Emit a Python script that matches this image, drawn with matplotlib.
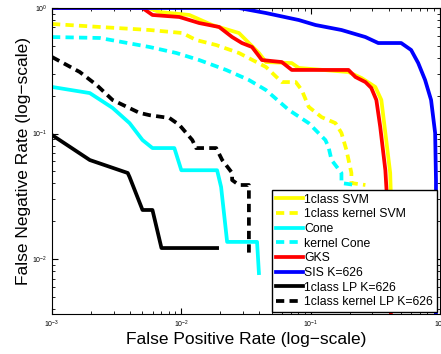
import numpy as np
import matplotlib.pyplot as plt

plt.rcParams['font.family'] = ['Liberation Sans', 'DejaVu Sans']

# ROC-like curves (x = FPR, y = FNR)
svm_x = [0.001, 0.00557, 0.00677, 0.01153, 0.0173, 0.0279, 0.0398, 0.0451, 0.0714, 0.0809,
         0.196, 0.247, 0.316, 0.352, 0.378, 0.412, 0.43]
svm_y = [1.0, 1.0, 0.929, 0.88, 0.732, 0.632, 0.438, 0.371, 0.364, 0.333,
         0.309, 0.277, 0.235, 0.185, 0.101, 0.0485, 0.0118]

ksvm_x = [0.001, 0.00234, 0.00568, 0.0102, 0.013, 0.0186, 0.0279, 0.0451, 0.0598, 0.0767,
          0.0853, 0.0966, 0.1216, 0.1556, 0.173, 0.189, 0.2065, 0.2065, 0.265]
ksvm_y = [0.746, 0.706, 0.668, 0.632, 0.556, 0.507, 0.438, 0.339, 0.257, 0.257,
          0.222, 0.163, 0.135, 0.121, 0.101, 0.0739, 0.0485, 0.0403, 0.0389]

cone_x = [0.001, 0.00196, 0.00294, 0.00398, 0.00501, 0.00598, 0.00883, 0.01, 0.0189, 0.0203,
          0.0226, 0.0385, 0.0398]
cone_y = [0.235, 0.21, 0.16, 0.121, 0.0887, 0.0766, 0.0766, 0.051, 0.051, 0.0375,
          0.0137, 0.0137, 0.00773]

kcone_x = [0.001, 0.00234, 0.00568, 0.00916, 0.01374, 0.0222, 0.0333, 0.0451, 0.0678, 0.0966,
           0.130, 0.1374, 0.145, 0.173, 0.173, 0.222]
kcone_y = [0.587, 0.577, 0.489, 0.438, 0.385, 0.321, 0.267, 0.222, 0.154, 0.121,
           0.0887, 0.078, 0.0615, 0.0485, 0.0403, 0.0389]

gks_x = [0.001, 0.00501, 0.00598, 0.00966, 0.01374, 0.0196, 0.0247, 0.0294, 0.0352, 0.042,
         0.0598, 0.0714, 0.196, 0.222, 0.265, 0.294, 0.322, 0.345, 0.378, 0.386, 0.42]
gks_y = [1.0, 1.0, 0.88, 0.848, 0.759, 0.706, 0.587, 0.526, 0.489, 0.385,
         0.371, 0.321, 0.321, 0.282, 0.257, 0.231, 0.185, 0.113, 0.051, 0.0355, 0.003]

sis_x = [0.001, 0.0279, 0.0451, 0.0809, 0.109, 0.173, 0.265, 0.333, 0.501, 0.598,
         0.678, 0.767, 0.853, 0.917, 0.931, 0.931]
sis_y = [1.0, 1.0, 0.912, 0.802, 0.732, 0.668, 0.587, 0.526, 0.526, 0.463,
         0.365, 0.267, 0.185, 0.101, 0.0426, 0.003]

lp_x = [0.001, 0.00196, 0.00385, 0.00398, 0.00501, 0.00598, 0.00702, 0.0189]
lp_y = [0.0973, 0.0615, 0.0485, 0.045, 0.0246, 0.0246, 0.01224, 0.01224]

klp_x = [0.001, 0.00164, 0.00222, 0.00294, 0.00475, 0.00568, 0.00809, 0.00966, 0.01216, 0.013,
         0.0186, 0.0207, 0.0247, 0.0247, 0.0279, 0.0333, 0.0333]
klp_y = [0.407, 0.309, 0.243, 0.185, 0.146, 0.14, 0.133, 0.117, 0.0887, 0.0766,
         0.0766, 0.0615, 0.0485, 0.0426, 0.0389, 0.0389, 0.0112]

fig = plt.figure(figsize=(4.41, 3.54), dpi=100)
ax = fig.add_axes([52/441, 1-314/354, 388/441, 306/354])

lw = 2.7
dash = (0, (2.2, 1.4))
ax.plot(svm_x, svm_y, color='yellow', lw=lw, label='1class SVM')
ax.plot(ksvm_x, ksvm_y, color='yellow', lw=lw, ls=dash, label='1class kernel SVM')
ax.plot(cone_x, cone_y, color='cyan', lw=lw, label='Cone')
ax.plot(kcone_x, kcone_y, color='cyan', lw=lw, ls=dash, label='kernel Cone')
ax.plot(gks_x, gks_y, color='red', lw=lw, label='GKS')
ax.plot(sis_x, sis_y, color='blue', lw=lw, label='SIS K=626')
ax.plot(lp_x, lp_y, color='black', lw=lw, label='1class LP K=626')
ax.plot(klp_x, klp_y, color='black', lw=lw, ls=dash, label='1class kernel LP K=626')

ax.set_xscale('log')
ax.set_yscale('log')
ax.set_xlim(1e-3, 1)
ax.set_ylim(0.00365, 1)
ax.tick_params(which='both', direction='in', top=True, right=True, labelsize=5)
ax.tick_params(which='major', length=4)
ax.tick_params(which='minor', length=2)
ax.set_xlabel('False Positive Rate (log\u2212scale)', fontsize=12.5, labelpad=1)
ax.set_ylabel('False Negative Rate (log\u2212scale)', fontsize=12.5, labelpad=1)

leg = ax.legend(loc='lower right', bbox_to_anchor=(0.992, 0.0065), fontsize=8.8,
                handlelength=2.2, handletextpad=0.12, labelspacing=0.22,
                borderpad=0.3, borderaxespad=0, fancybox=False, framealpha=1)
leg.get_frame().set_edgecolor('black')
leg.get_frame().set_linewidth(1.0)

plt.savefig('out.png', dpi=100)
